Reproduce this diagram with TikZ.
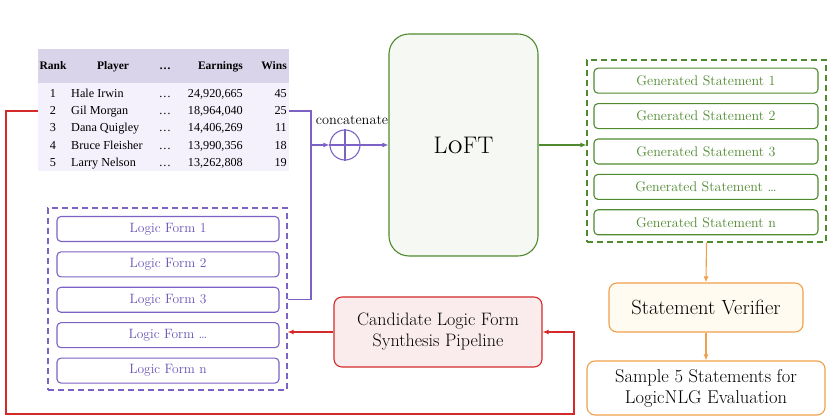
\documentclass[tikz,border=0pt]{standalone}
\usepackage{fontspec}
\newfontfamily\tabfont{Liberation Serif}
\usetikzlibrary{arrows.meta,positioning,calc}
\definecolor{cPurple}{HTML}{7B62C4}
\definecolor{cPurpleT}{HTML}{6A52B8}
\definecolor{cGreen}{HTML}{4F8A2F}
\definecolor{cRed}{HTML}{D42A2A}
\definecolor{cOrange}{HTML}{F0A04A}
\definecolor{cHead}{HTML}{DAD4EA}
\definecolor{cBody}{HTML}{F4F1FC}
\definecolor{cLoft}{HTML}{F6F8F4}
\definecolor{cCand}{HTML}{FAEBEC}
\definecolor{cVerif}{HTML}{FFFBF0}
\tikzset{
  blk/.style={draw, line width=1.1pt, rounded corners=4pt, fill=white,
              inner sep=2pt, align=center},
  lfblk/.style={blk, draw=cPurple, text=cPurpleT, minimum width=222pt,
                minimum height=25pt, font=\fontsize{13.5}{15}\selectfont},
  genblk/.style={blk, draw=cGreen, text=cGreen, minimum width=224pt,
                 minimum height=25pt, font=\fontsize{14}{16}\selectfont},
  grp/.style={draw, line width=1.1pt, dash pattern=on 6pt off 4pt,
              minimum width=239pt, minimum height=182pt, inner sep=0pt},
  bigblk/.style={blk, rounded corners=8pt, inner sep=1pt, font=\fontsize{18.5}{21}\selectfont},
  td/.style={inner sep=0pt, font=\tabfont\fontsize{12.2}{14}\selectfont},
  th/.style={inner sep=0pt, font=\tabfont\bfseries\fontsize{11.5}{13}\selectfont},
  arr/.style={-{Latex[length=6pt,width=5pt]}, line width=1.1pt},
  line/.style={line width=1.1pt}
}

\begin{document}
\begin{tikzpicture}[x=1pt, y=1pt]
\useasboundingbox (0,0) rectangle (831,419);
% Table
\node[fill=cHead, minimum width=251pt, minimum height=34pt, inner sep=0pt] (thead) at (163.5,353) {};
\node[fill=cBody, minimum width=251pt, minimum height=88pt, inner sep=0pt, below=0pt of thead] (tbody) {};
\node[th, anchor=base] (hrank) at (53,349) {Rank};
\node[th, anchor=base] (hplayer) at (113,349) {Player};
\node[th, anchor=base] (hdots) at (165,349) {\dots};
\node[th, anchor=base east] (hearn) at (243,349) {Earnings};
\node[th, anchor=base east] (hwins) at (287,349) {Wins};
\node[td, anchor=base] (r1a) at (53,321) {1};
\node[td, anchor=base west] (r1b) at (71,321) {Hale Irwin};
\node[td, anchor=base] (r1c) at (165,321) {\dots};
\node[td, anchor=base east] (r1d) at (243,321) {24,920,665};
\node[td, anchor=base east] (r1e) at (287,321) {45};
\node[td, anchor=base] (r2a) at (53,304) {2};
\node[td, anchor=base west] (r2b) at (71,304) {Gil Morgan};
\node[td, anchor=base] (r2c) at (165,304) {\dots};
\node[td, anchor=base east] (r2d) at (243,304) {18,964,040};
\node[td, anchor=base east] (r2e) at (287,304) {25};
\node[td, anchor=base] (r3a) at (53,287) {3};
\node[td, anchor=base west] (r3b) at (71,287) {Dana Quigley};
\node[td, anchor=base] (r3c) at (165,287) {\dots};
\node[td, anchor=base east] (r3d) at (243,287) {14,406,269};
\node[td, anchor=base east] (r3e) at (287,287) {11};
\node[td, anchor=base] (r4a) at (53,269) {4};
\node[td, anchor=base west] (r4b) at (71,269) {Bruce Fleisher};
\node[td, anchor=base] (r4c) at (165,269) {\dots};
\node[td, anchor=base east] (r4d) at (243,269) {13,990,356};
\node[td, anchor=base east] (r4e) at (287,269) {18};
\node[td, anchor=base] (r5a) at (53,252) {5};
\node[td, anchor=base west] (r5b) at (71,252) {Larry Nelson};
\node[td, anchor=base] (r5c) at (165,252) {\dots};
\node[td, anchor=base east] (r5d) at (243,252) {13,262,808};
\node[td, anchor=base east] (r5e) at (287,252) {19};
% Logic forms
\node[grp, draw=cPurple] (lfgrp) at (167.5,120) {};
\node[lfblk] (lf1) at (168,190) {Logic Form \oldstylenums{1}};
\node[lfblk, below=9.3pt of lf1] (lf2) {Logic Form \oldstylenums{2}};
\node[lfblk, below=9.3pt of lf2] (lf3) {Logic Form \oldstylenums{3}};
\node[lfblk, below=9.3pt of lf3] (lfdots) {Logic Form \dots};
\node[lfblk, below=9.3pt of lfdots] (lfn) {Logic Form n};
% Concatenate + LoFT
\coordinate (bus) at (311,274);
\node[circle, draw=cPurple, line width=1.1pt, minimum size=30pt, inner sep=0pt] (oplus) at (345,274) {};
\draw[line, cPurple] (oplus.north) -- (oplus.south) (oplus.west) -- (oplus.east);
\node[above=1pt of oplus, xshift=7pt, font=\fontsize{14.3}{16}\selectfont] (cat) {concatenate};
\node[blk, draw=cGreen, fill=cLoft, rounded corners=20pt, minimum width=149pt, minimum height=222pt,
      font=\fontsize{24}{28}\selectfont] (loft) at (463.5,274) {L\textsc{o}FT};
\draw[line, cPurple] (tbody.east |- r2e) -| (bus) |- (lfgrp.east |- lf3);
\draw[arr, cPurple] (bus) -- (oplus);
\draw[arr, cPurple] (oplus) -- (loft.west |- oplus);
% Generated statements
\node[grp, draw=cGreen] (genbox) at (706.5,268) {};
\node[genblk] (gs1) at (706,338.3) {Generated Statement \oldstylenums{1}};
\node[genblk, below=9.3pt of gs1] (gs2) {Generated Statement \oldstylenums{2}};
\node[genblk, below=9.3pt of gs2] (gs3) {Generated Statement \oldstylenums{3}};
\node[genblk, below=9.3pt of gs3] (gsdots) {Generated Statement \dots};
\node[genblk, below=9.3pt of gsdots] (gsn) {Generated Statement n};
\draw[arr, cGreen] (loft.east) -- (genbox.west |- loft.east);
% Verifier and sampling
\node[bigblk, draw=cOrange, fill=cVerif, minimum width=194pt, minimum height=49pt,
      font=\fontsize{20.5}{23}\selectfont] (verif) at (706,111.5) {Statement Verifier};
\node[bigblk, draw=cOrange, minimum width=238pt, minimum height=54pt] (sample) at (706,31)
      {Sample \oldstylenums{5} Statements for\\LogicNLG Evaluation};
\draw[arr, cOrange] (genbox.south) -- (verif.north);
\draw[arr, cOrange] (verif) -- (sample);
% Candidate synthesis
\node[bigblk, draw=cRed, fill=cCand, minimum width=208pt, minimum height=70pt,
      font=\fontsize{18}{21}\selectfont] (cand) at (438,87)
      {Candidate Logic Form\\Synthesis Pipeline};
\coordinate (lowL) at (6,5);
\coordinate (lowR) at (574,5);
\draw[arr, cRed] (tbody.west |- r2a) -| (lowL) -- (lowR) |- (cand.east);
\draw[arr, cRed] (cand.west) -- (lfgrp.east |- cand.west);
\end{tikzpicture}
\end{document}
